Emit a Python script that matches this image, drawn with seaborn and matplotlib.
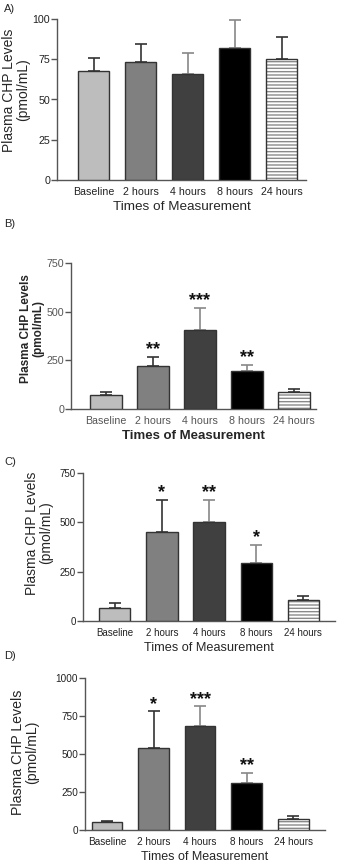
import numpy as np
import pandas as pd
import seaborn as sns
import matplotlib.pyplot as plt
import matplotlib.colors as mcolors

times = ['Baseline', '2 hours', '4 hours', '8 hours', '24 hours']
bar_colors = ['#bdbdbd', '#808080', '#404040', '#000000', '#ffffff']
err_colors = ['#333333', '#333333', '#888888', '#888888', '#333333']

a_mean = [67.7, 73.1, 65.6, 81.8, 75.2]
a_err = [7.9, 11.4, 13.1, 17.6, 13.8]
a_star = ['', '', '', '', '']

b_mean = [72, 222, 407, 193, 87]
b_err = [14, 45, 110, 33, 16]
b_star = ['', '**', '***', '**', '']

c_mean = [68, 453, 501, 296, 105]
c_err = [22, 161, 111, 91, 22]
c_star = ['', '*', '**', '*', '']

d_mean = [55, 538, 686, 308, 73]
d_err = [7, 242, 127, 66, 22]
d_star = ['', '*', '***', '**', '']

W, H = 362, 863
sns.set_theme(style='ticks')
plt.rcParams['font.family'] = ['Liberation Sans', 'DejaVu Sans']
plt.rcParams['hatch.linewidth'] = 1.0

fig = plt.figure(figsize=(W / 100, H / 100), dpi=100)


def add_ax(l, r, t, b):
    return fig.add_axes([l / W, 1 - b / H, (r - l) / W, (b - t) / H])


def panel(ax, mean, err, star, ymax, step, xlim, width, ylab_xy, bold=False,
          tickfs=7.7, tickcol='#222222', labfs=10, xlabfs=9.7, tickfam=None):
    df = pd.DataFrame({'time': times, 'val': mean})
    sns.barplot(data=df, x='time', y='val', hue='time', palette=bar_colors,
                legend=False, errorbar=None, width=width, edgecolor='#333333',
                linewidth=1.0, ax=ax, zorder=3)
    # last bar: horizontal hatching in grey
    p = ax.patches[4]
    p.set_hatch('-----')
    p._hatch_color = mcolors.to_rgba('#8a8a8a')
    for i in range(5):
        ax.errorbar(i, mean[i], yerr=[[0], [err[i]]], fmt='none',
                    ecolor=err_colors[i], elinewidth=1.2, capsize=4.5,
                    capthick=1.2, zorder=2)
        if star[i]:
            ax.annotate(star[i], (i, mean[i] + err[i]), xytext=(0, 2),
                        textcoords='offset points', ha='center', va='baseline',
                        fontsize=13, fontweight='bold', color='#111111')
    ax.set_ylim(0, ymax)
    ax.set_yticks(np.arange(0, ymax + 1, step))
    ax.set_xlim(*xlim)
    sns.despine(ax=ax)
    for s in ['left', 'bottom']:
        ax.spines[s].set_color('#555555')
        ax.spines[s].set_linewidth(1.0)
    ax.tick_params(axis='y', length=4, width=1, color='#555555', pad=1,
                   labelsize=tickfs, labelcolor=tickcol)
    ax.tick_params(axis='x', length=0, pad=5, labelsize=tickfs, labelcolor=tickcol)
    if tickfam:
        for t in ax.get_xticklabels():
            t.set_family(tickfam)
    w = 'bold' if bold else 'normal'
    ax.set_ylabel('Plasma CHP Levels\n(pmol/mL)', fontsize=labfs, fontweight=w,
                  linespacing=1.0)
    ax.yaxis.set_label_coords(*ylab_xy)
    ax.set_xlabel('Times of Measurement', fontsize=xlabfs, fontweight=w, labelpad=3)


axA = add_ax(57, 306, 19, 180)
panel(axA, a_mean, a_err, a_star, 100, 25, (-0.78, 4.52), 0.66, (-0.108, 0.56))

axB = add_ax(71, 316, 263, 409)
panel(axB, b_mean, b_err, b_star, 750, 250, (-0.745, 4.47), 0.68, (-0.11, 0.55),
      bold=True, tickcol='#555555', labfs=8.5, xlabfs=9.5)

axC = add_ax(83, 335, 473, 621)
panel(axC, c_mean, c_err, c_star, 750, 250, (-0.68, 4.68), 0.66, (-0.119, 0.595),
      tickfs=7.0, labfs=10, xlabfs=9.2,
      tickfam=['Liberation Sans Narrow', 'Liberation Sans'])

axD = add_ax(85, 325, 678, 830)
panel(axD, d_mean, d_err, d_star, 1000, 250, (-0.47, 4.68), 0.66, (-0.19, 0.51),
      tickfs=7.2, labfs=10.2, xlabfs=9.0)

for lab, y in [('A)', 4), ('B)', 219), ('C)', 457), ('D)', 651)]:
    fig.text(4 / W, 1 - y / H, lab, fontsize=8, va='top', ha='left')

fig.savefig('out.png', dpi=100)
